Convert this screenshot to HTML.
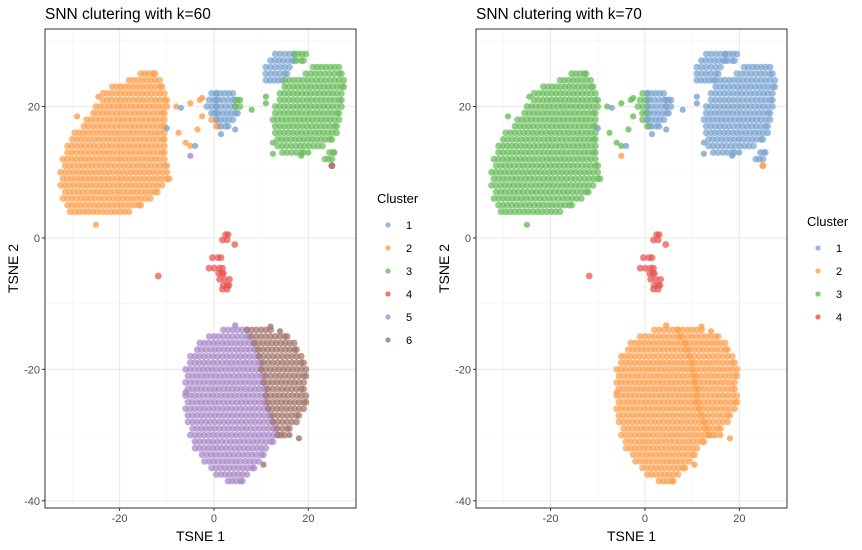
<!DOCTYPE html>
<html><head><meta charset="utf-8"><style>
body{margin:0;background:#fff;}
svg{display:block;font-family:"Liberation Sans",Arial,sans-serif;}
</style></head><body>
<svg id="chart" width="862" height="550" viewBox="0 0 862 550"></svg>
<script>
// spans: [y, xStart, xEnd, clusterK60, clusterK70]
const spans = [
[25,-16,-12.5,2,3],[24,-18,-11.5,2,3],[23,-22,-11,2,3],[22,-23.5,-10.5,2,3],[21,-24,-10,2,3],[20,-25,-10,2,3],
[19,-26,-10.5,2,3],[18,-27,-10.5,2,3],[17,-28,-10.5,2,3],[16,-29.5,-10.5,2,3],[15,-30.5,-10.5,2,3],[14,-31,-10.5,2,3],
[13,-31.5,-10.5,2,3],[12,-32,-10.5,2,3],[11,-32,-10,2,3],[10,-32.5,-10,2,3],[9,-32.5,-9.5,2,3],[8,-32.5,-11,2,3],
[7,-32,-12,2,3],[6,-32,-13.5,2,3],[5,-31.5,-15.5,2,3],[4,-30.5,-18,2,3],
[22,-0.5,0.5,1,3],[22,0.5,4,1,1],[21,-1.5,0.5,1,3],[21,0.5,4.5,1,1],[21,4.5,5.5,3,1],
[20,-1.5,0.5,1,3],[20,0.5,4.5,1,1],[20,4.5,5.5,3,1],[19,-1,0.5,1,3],[19,0.5,5,1,1],
[18,-0.5,0.5,2,3],[18,0.5,4,1,1],[17,0,1,2,3],[17,1,3,1,1],
[28,13,17,1,1],[28,17,19.5,3,1],[27,11.5,17,1,1],[27,17,19,3,1],[26,11,16,1,1],[25,10.5,15.5,1,1],[24,11,14.5,1,1],
[26,21,26.5,3,1],[25,19,27,3,1],[24,15,27.5,3,1],[23,14.5,27.5,3,1],[22,14,27,3,1],[21,13.5,27,3,1],[20,13,27,3,1],
[19,12.5,26.5,3,1],[18,12.5,26.5,3,1],[17,12.5,26,3,1],[16,13,26,3,1],[15,13,25,3,1],[14,13.5,23,3,1],[13,14,19,3,1],
[13,24,25.5,3,1],[12,23.5,25,3,1],[11,24.5,25,6,2],
[0.5,2,3,4,4],[-0.3,1.8,2.8,4,4],[-1,4.4,4.4,4,4],[-3,-0.8,1.5,4,4],[-4.6,-1.5,1.8,4,4],[-5.4,0.5,2,4,4],
[-6.3,1.2,3.3,4,4],[-7.2,1.5,3.2,4,4],[-7.8,1.8,2.8,4,4],[-5.8,-11.8,-11.8,4,4],
[-14,2,7,5,2],[-14,7,12,6,2],[-15,-1.5,7.5,5,2],[-15,7.5,15.5,6,2],[-16,-3,8.5,5,2],[-16,8.5,17,6,2],
[-17,-4,9,5,2],[-17,9,17.5,6,2],[-18,-5,9.5,5,2],[-18,9.5,18.5,6,2],[-19,-5.5,10,5,2],[-19,10,19,6,2],
[-20,-6,10,5,2],[-20,10,19.5,6,2],[-21,-6,10.5,5,2],[-21,10.5,19.5,6,2],[-22,-6,10.5,5,2],[-22,10.5,19,6,2],
[-23,-6,11,5,2],[-23,11,19,6,2],[-24,-6,11,5,2],[-24,11,19.5,6,2],[-25,-6,11,5,2],[-25,11,19.5,6,2],
[-26,-6,11.5,5,2],[-26,11.5,19,6,2],[-27,-6,12,5,2],[-27,12,18,6,2],[-28,-5.5,12.5,5,2],[-28,12.5,17.5,6,2],
[-29,-5,13,5,2],[-29,13,16,6,2],[-30,-5,13.5,5,2],[-30,13.5,15,6,2],[-31,-4.5,12.5,5,2],
[-32,-4,11,5,2],[-33,-3,10.5,5,2],[-34,-2,9.5,5,2],[-35,-1,8.5,5,2],[-36,0.5,7,5,2],[-37,2.5,6,5,2]
];
// outlier points: [x, y, clusterK60, clusterK70]
const points = [
[-24.5,21.5,2,3],[-29,18.5,2,3],[-25,2,2,3],[-8,20,2,3],[-5,20.5,2,3],[-3,21,2,3],[-2.5,21.3,2,3],
[-7.5,16,2,3],[-6,14.5,2,3],[-5,14,2,3],[-3.5,16.5,2,3],[-2.5,18.5,2,3],[-5,12.5,5,2],[-4,14,1,1],
[-7,19.8,1,1],[-10,16.7,1,1],[1.5,15.8,1,1],[4.5,16.5,1,1],[8,19.5,3,1],[11,21.5,3,1],[11,20.5,3,1],
[12.5,14.5,3,1],[12.5,12.8,3,1],[18.5,12.5,3,1],[20,13,3,1],[18,-30.5,6,2],[16,-30,6,2],[10.5,-34.5,6,2],
[4.5,-13.3,5,2],[12,-13.5,6,2],[14,-14.2,6,2],[-6,-23.5,5,2]
];
const ticksX = [-20,0,20];
const ticksY = [20,0,-20,-40];
const colors = {1:"#7aa3d1",2:"#fda04c",3:"#68bd5a",4:"#e8524e",5:"#a989c9",6:"#a27468"};
const legendK60 = [1,2,3,4,5,6];
const legendK70 = [1,2,3,4];

const svg = document.getElementById('chart');
const NS = "http://www.w3.org/2000/svg";
function mk(tag, attrs, parent){const e=document.createElementNS(NS,tag);for(const k in attrs)e.setAttribute(k,attrs[k]);(parent||svg).appendChild(e);return e;}

const Y0 = 29, Y1 = 508, yMin=-41.1, yMax=31.8;
function panel(left, right, which, title, legend, legX, legY){
  const xMin=-35.8, xMax=30.1;
  const sx = v => left + (v - xMin)/(xMax - xMin)*(right-left);
  const sy = v => Y0 + (yMax - v)/(yMax - yMin)*(Y1-Y0);
  const g = mk('g',{});
  
  
  mk('rect',{x:left,y:Y0,width:right-left,height:Y1-Y0,fill:'#fff'},g);
  [-30,-10,10].forEach(v=>mk('line',{x1:sx(v),x2:sx(v),y1:Y0,y2:Y1,stroke:'#f2f2f2','stroke-width':0.6},g));
  [30,10,-10,-30].forEach(v=>mk('line',{x1:left,x2:right,y1:sy(v),y2:sy(v),stroke:'#f2f2f2','stroke-width':0.6},g));
  ticksX.forEach(v=>mk('line',{x1:sx(v),x2:sx(v),y1:Y0,y2:Y1,stroke:'#ebebeb','stroke-width':1.1},g));
  ticksY.forEach(v=>mk('line',{x1:left,x2:right,y1:sy(v),y2:sy(v),stroke:'#ebebeb','stroke-width':1.1},g));
  const idx = which===60?3:4, pidx = which===60?2:3;
  const dots = mk('g',{},g);
  
  
  const step=0.95;
  spans.forEach((s,i)=>{
    const n=Math.max(1,Math.round((s[2]-s[1])/step)+1);
    const odd = Math.abs(Math.round(s[0]))%2===1;
    for(let j=0;j<n;j++){
      let xv = n===1?(s[1]+s[2])/2:s[1]+(s[2]-s[1])*j/(n-1);
      if(odd && n>1 && j<n-1) xv += step/2;
      const c=mk('circle',{cx:sx(xv),cy:sy(s[0]),r:3.4,fill:colors[s[idx]],'fill-opacity':0.72},dots);
      
      
    }
  });
  points.forEach(p=>{
    const c=mk('circle',{cx:sx(p[0]),cy:sy(p[1]),r:3.1,fill:colors[p[pidx]],'fill-opacity':0.8},dots);
    
    
  });
  mk('rect',{x:left,y:Y0,width:right-left,height:Y1-Y0,fill:'none',stroke:'#333','stroke-width':1},g);
  ticksX.forEach(v=>{
    mk('line',{x1:sx(v),x2:sx(v),y1:Y1,y2:Y1+3,stroke:'#333'},g);
    const t=mk('text',{x:sx(v),y:Y1+14,'text-anchor':'middle','font-size':11,fill:'#4d4d4d'},g);t.textContent=v;
    
    
  });
  ticksY.forEach(v=>{
    mk('line',{x1:left-3,x2:left,y1:sy(v),y2:sy(v),stroke:'#333'},g);
    const t=mk('text',{x:left-5,y:sy(v)+4,'text-anchor':'end','font-size':11,fill:'#4d4d4d'},g);t.textContent=v;
    
    
  });
  const tt=mk('text',{x:left,y:19,'font-size':15.5,fill:'#000'},g);tt.textContent=title;
  
  
  const xl=mk('text',{x:(left+right)/2,y:541,'text-anchor':'middle','font-size':14,fill:'#000'},g);xl.textContent='TSNE 1';
  
  
  const yx=left-27, yy=(Y0+Y1)/2;
  const yl=mk('text',{x:yx,y:yy,'text-anchor':'middle','font-size':14,fill:'#000',transform:`rotate(-90 ${yx} ${yy})`},g);yl.textContent='TSNE 2';
  
  
  const lg=mk('g',{},g);
  
  
  const lt=mk('text',{x:legX,y:legY,'font-size':13,fill:'#000'},lg);lt.textContent='Cluster';
  
  
  legend.forEach((c,i)=>{
    const y=legY+23+i*23;
    const e=mk('g',{},lg);
    
    
    mk('circle',{cx:legX+11,cy:y-1,r:2.6,fill:colors[c],'fill-opacity':0.8},e);
    const t=mk('text',{x:legX+29,y:y+3,'font-size':11,fill:'#000'},e);t.textContent=c;
  });
}
panel(45,356,60,'SNN clutering with k=60',legendK60,377,203);
panel(476,787,70,'SNN clutering with k=70',legendK70,807,226);
</script>
</body></html>
